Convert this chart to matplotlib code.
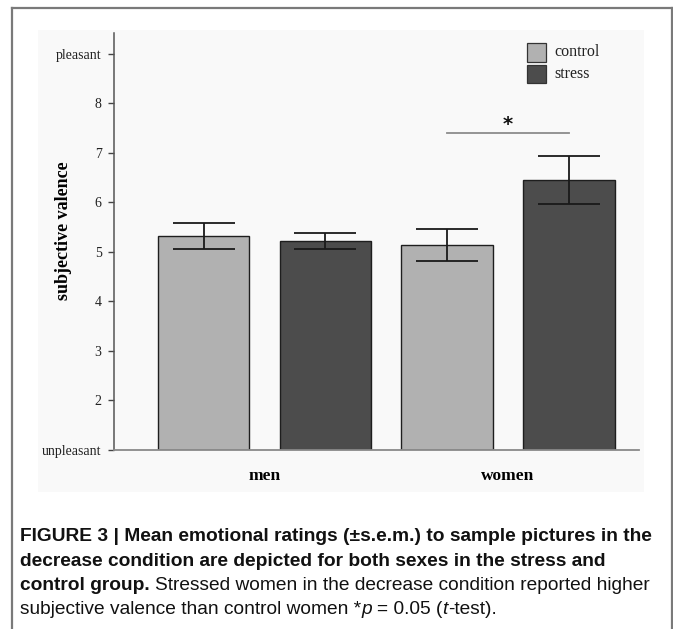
import matplotlib
matplotlib.use("Agg")
import matplotlib.pyplot as plt
from matplotlib.patches import Rectangle
from matplotlib.lines import Line2D
from matplotlib import font_manager

W, H = 673, 629
DPI = 100

# ---- data ----
groups = ["men", "women"]
conditions = ["control", "stress"]
means = {"control": [5.32, 5.14], "stress": [5.22, 6.45]}
sems = {"control": [0.26, 0.33], "stress": [0.17, 0.49]}
ytick_vals = [1, 2, 3, 4, 5, 6, 7, 8, 9]
ytick_labels = ["unpleasant", "2", "3", "4", "5", "6", "7", "8", "pleasant"]
sig_pair = (2, 3)        # women control vs women stress
sig_label = "*"

colors = {"control": "#b1b1b1", "stress": "#4c4c4c"}
serif = ["Liberation Serif", "DejaVu Serif"]
names = {f.name for f in font_manager.fontManager.ttflist}
sans = ["Liberation Sans Narrow", "Liberation Sans"] if "Liberation Sans Narrow" in names else ["Liberation Sans"]

fig = plt.figure(figsize=(W / DPI, H / DPI), dpi=DPI)
fig.patch.set_facecolor("white")

def fx(px):
    return px / W

def fy(py):
    return 1 - py / H

# light grey background of the embedded chart image
fig.patches.append(Rectangle((fx(38), fy(492)), fx(644) - fx(38), fy(30) - fy(492),
                             transform=fig.transFigure, facecolor="#f9f9f9",
                             edgecolor="none", zorder=-5))
# frame around figure panel
frame_c = "#7a7a7a"
fig.lines.append(Line2D([fx(12), fx(12)], [fy(8), 0], transform=fig.transFigure, color=frame_c, lw=1.6, zorder=-4))
fig.lines.append(Line2D([fx(12), 1], [fy(8), fy(8)], transform=fig.transFigure, color=frame_c, lw=1.6, zorder=-4))
fig.lines.append(Line2D([fx(672), fx(672)], [fy(8), 0], transform=fig.transFigure, color=frame_c, lw=1.6, zorder=-4))

ax = fig.add_axes([fx(114), fy(450), fx(639) - fx(114), fy(33) - fy(450)])
ax.set_facecolor("none")
ax.set_zorder(2)

xpos = []
vals = []
errs = []
cols = []
for gi, g in enumerate(groups):
    for ci, c in enumerate(conditions):
        xpos.append(gi * 2 + ci)
        vals.append(means[c][gi])
        errs.append(sems[c][gi])
        cols.append(colors[c])

ax.bar(xpos, [v - 1 for v in vals], bottom=1, width=0.75, color=cols,
       edgecolor="#1e1e1e", linewidth=1.0, zorder=2)
ax.errorbar(xpos, vals, yerr=errs, fmt="none", ecolor="#1a1a1a",
            elinewidth=1.3, capsize=22, capthick=1.3, zorder=3)

ax.set_xlim(-0.735, 3.576)
ax.set_ylim(1, 9.42)

ax.set_yticks(ytick_vals)
ax.set_yticklabels(ytick_labels, fontfamily=serif, fontsize=10, color="#222222")
ax.tick_params(axis="y", direction="out", length=4.5, width=1.0, pad=4.5, color="#444444")
ax.set_xticks([])

for s in ["top", "right"]:
    ax.spines[s].set_visible(False)
ax.spines["left"].set_color("#555555")
ax.spines["left"].set_linewidth(1.1)
ax.spines["bottom"].set_color("#8a8a8a")
ax.spines["bottom"].set_linewidth(1.3)

# group labels
for gi, g in enumerate(groups):
    ax.text(gi * 2 + 0.5, 1 - (476 - 450) / 49.6, g, ha="center", va="center",
            fontfamily=serif, fontweight="bold", fontsize=12.5, clip_on=False)

# y label
fig.text(fx(64), fy(231), "subjective valence", rotation=90, ha="center", va="center",
         fontfamily=serif, fontweight="bold", fontsize=13)

# significance bar
ax.plot(list(sig_pair), [7.40, 7.40], color="#8c8c8c", lw=1.3, zorder=3)
ax.text(sum(sig_pair) / 2, 7.46, sig_label, ha="center", va="baseline",
        fontsize=14, fontweight="bold", color="#111111")

# legend (manual)
for i, c in enumerate(conditions):
    y0 = 43.5 + i * 21
    fig.patches.append(Rectangle((fx(527), fy(y0 + 18)), fx(546) - fx(527), fy(y0) - fy(y0 + 18),
                                 transform=fig.transFigure, facecolor=colors[c],
                                 edgecolor="#333333", linewidth=0.9, zorder=3))
    fig.text(fx(554), fy(y0 + 9), c, ha="left", va="center", fontfamily=serif,
             fontsize=11.5, color="#222222")

# caption
renderer = fig.canvas.get_renderer()
cap_size = 13.8

def space_w(kw):
    a = fig.text(0, 0, "x x", fontsize=cap_size, fontfamily=sans, **kw)
    b = fig.text(0, 0, "xx", fontsize=cap_size, fontfamily=sans, **kw)
    w = a.get_window_extent(renderer).width - b.get_window_extent(renderer).width
    a.remove(); b.remove()
    return w

def draw_line(y_px, pieces):
    x = 20.0
    for txt, kw, trailing_space in pieces:
        t = fig.text(fx(x), fy(y_px), txt, fontsize=cap_size, fontfamily=sans,
                     ha="left", va="baseline", color="#111111", **kw)
        x += t.get_window_extent(renderer).width
        if trailing_space:
            x += space_w(kw)

B = {"fontweight": "bold"}
N = {}
I = {"fontstyle": "italic"}
draw_line(541, [("FIGURE 3 | Mean emotional ratings (\u00b1s.e.m.) to sample pictures in the", B, False)])
draw_line(566, [("decrease condition are depicted for both sexes in the stress and", B, False)])
draw_line(590, [("control group.", B, True), ("Stressed women in the decrease condition reported higher", N, False)])
draw_line(614, [("subjective valence than control women *", N, False), ("p", I, True), ("= 0.05 (", N, False),
                ("t", I, False), ("-test).", N, False)])

fig.savefig("out.png", dpi=DPI)
